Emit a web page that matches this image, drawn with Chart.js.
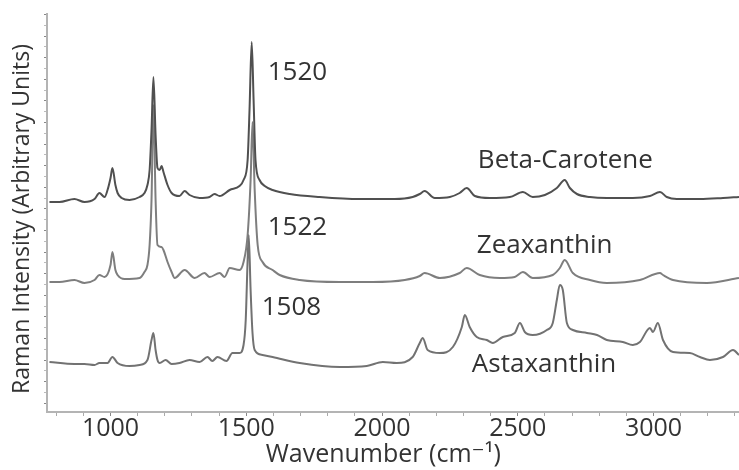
<!DOCTYPE html>
<html><head><meta charset="utf-8">
<script src="https://cdn.jsdelivr.net/npm/chart.js@4/dist/chart.umd.min.js"></script>
<style>html,body{margin:0;padding:0;background:#fff}#wrap{width:739px;height:470px;position:relative}</style>
</head><body><div id="wrap"><canvas id="c"></canvas></div>
<script>
// Wavenumbers (cm-1) and Raman intensities (arbitrary units)
const betaWn  = [775,812,867,904,941,959,978,989,1000,1007,1018,1026,1041,1070,1107,1125,1136,1144,1151,1158,1166,1173,1181,1188,1195,1210,1225,1254,1273,1291,1328,1365,1383,1402,1439,1475,1490,1505,1512,1520,1527,1534,1549,1568,1597,1660,1770,1918,2047,2113,2139,2157,2194,2250,2286,2312,2342,2397,2471,2519,2555,2600,2644,2673,2692,2718,2766,2828,2924,2987,3024,3049,3086,3171,3256,3315];
const betaInt = [210,210,213,210,213,219,215,222,234,244,227,219,214,212,215,219,227,242,282,335,277,244,242,246,240,227,219,216,221,217,214,215,218,216,222,226,232,252,302,370,312,252,232,226,222,218,215,213,213,215,218,221,214,215,219,224,216,214,215,220,215,217,224,232,224,218,215,214,214,216,220,215,213,213,214,215];

const zeaWn  = [775,812,867,904,941,959,978,1000,1007,1018,1026,1052,1107,1125,1136,1144,1151,1158,1166,1173,1188,1195,1210,1225,1236,1273,1310,1346,1365,1402,1420,1439,1475,1490,1505,1516,1523,1531,1542,1560,1597,1623,1697,1844,1966,2084,2139,2157,2213,2286,2312,2360,2434,2489,2519,2555,2629,2655,2673,2703,2766,2828,2950,3024,3035,3072,3197,3315];
const zeaInt = [130,130,132,129,132,137,135,147,160,142,137,133,134,140,147,167,212,307,212,167,165,162,150,140,134,142,134,139,135,139,135,144,142,150,177,232,290,222,167,150,142,137,132,130,130,132,136,139,134,139,144,137,134,135,140,134,137,144,152,139,132,129,132,139,137,132,129,134];

const astaWn  = [775,867,904,941,959,989,1007,1026,1070,1107,1136,1151,1158,1166,1173,1181,1203,1225,1254,1291,1328,1357,1375,1394,1427,1449,1475,1490,1498,1505,1509,1516,1523,1531,1560,1597,1697,1844,1944,2003,2054,2113,2139,2150,2168,2213,2261,2294,2305,2323,2349,2386,2408,2445,2489,2508,2526,2555,2607,2629,2644,2655,2666,2681,2703,2755,2792,2828,2887,2924,2950,2987,2998,3016,3035,3072,3134,3171,3208,3256,3293,3315];
const astaInt = [50,48,48,47,49,49,55,49,46,47,52,72,79,62,52,49,52,48,49,52,50,55,51,55,51,59,59,67,92,152,177,122,79,62,57,55,49,45,46,50,49,55,69,74,62,59,65,85,97,85,75,72,69,75,79,89,80,77,82,89,112,127,122,89,82,79,77,72,70,67,70,84,80,89,72,60,59,55,52,55,62,57];

const seriesNames = ['Beta-Carotene','Zeaxanthin','Astaxanthin'];
const xTickValues = [800,900,1000,1100,1200,1300,1400,1500,1600,1700,1800,1900,2000,2100,2200,2300,2400,2500,2600,2700,2800,2900,3000,3100,3200,3300];

const labelText = ['1520','1522','1508','Beta-Carotene','Zeaxanthin','Astaxanthin'];
const labelWn   = [1579,1579,1557,2353,2349,2331];
const labelInt  = [332,177,97,244,159,40];

const FONT = '"Open Sans", "DejaVu Sans", sans-serif';
const toXY = (xs, ys) => xs.map((x, i) => ({x, y: ys[i]}));

const textPlugin = {
  id: 'peakLabels',
  afterDatasetsDraw(chart) {
    const {ctx, scales: {x, y}} = chart;
    ctx.save();
    ctx.font = '26px ' + FONT;
    ctx.fillStyle = '#333';
    ctx.textAlign = 'left';
    ctx.textBaseline = 'alphabetic';
    labelText.forEach((t, i) => ctx.fillText(t, x.getPixelForValue(labelWn[i]), y.getPixelForValue(labelInt[i])));
    ctx.restore();
  }
};

const lineDs = (label, xs, ys, color) => ({
  label, data: toXY(xs, ys), borderColor: color, borderWidth: 2,
  pointRadius: 0, cubicInterpolationMode: 'monotone', fill: false
});

new Chart(document.getElementById('c'), {
  type: 'line',
  data: { datasets: [
    lineDs(seriesNames[0], betaWn, betaInt, '#505050'),
    lineDs(seriesNames[1], zeaWn, zeaInt, '#7e7e7e'),
    lineDs(seriesNames[2], astaWn, astaInt, '#727272')
  ]},
  options: {
    responsive: true, maintainAspectRatio: false, animation: false,
    layout: { padding: { top: 14, right: 0, left: 0, bottom: 0 } },
    plugins: { legend: { display: false }, tooltip: { enabled: false } },
    scales: {
      x: {
        type: 'linear', min: 766, max: 3315,
        afterBuildTicks: s => { s.ticks = xTickValues.map(v => ({value: v})); },
        afterFit: s => { s.height = 58; },
        grid: { drawOnChartArea: false, tickLength: 4, color: c => (c.tick && c.tick.value % 500 === 0) ? '#888' : '#aaa' },
        border: { color: '#b4b4b4', width: 2 },
        ticks: { autoSkip: false, maxRotation: 0, padding: -2, color: '#333', font: { family: FONT, size: 25 },
          callback: v => (v % 500 === 0 ? String(v) : '') },
        title: { display: true, text: 'Wavenumber (cm\u207B\u00B9)   ', color: '#333', font: { family: FONT, size: 25 }, padding: 0 }
      },
      y: {
        type: 'linear', min: 0, max: 398,
        afterBuildTicks: s => { const t = []; for (let v = 8.7; v <= 398; v += 10.8) t.push({value: v}); s.ticks = t; },
        afterFit: s => { s.width = 47; },
        grid: { drawOnChartArea: false, tickLength: 3, color: c => (c.index % 2 === 0) ? '#888' : '#bbb' },
        border: { color: '#b4b4b4', width: 2 },
        ticks: { display: false },
        title: { display: true, text: 'Raman Intensity (Arbitrary Units)  ', color: '#333', font: { family: FONT, size: 23 }, padding: { top: 9 } }
      }
    }
  },
  plugins: [textPlugin]
});
</script>
</body></html>
